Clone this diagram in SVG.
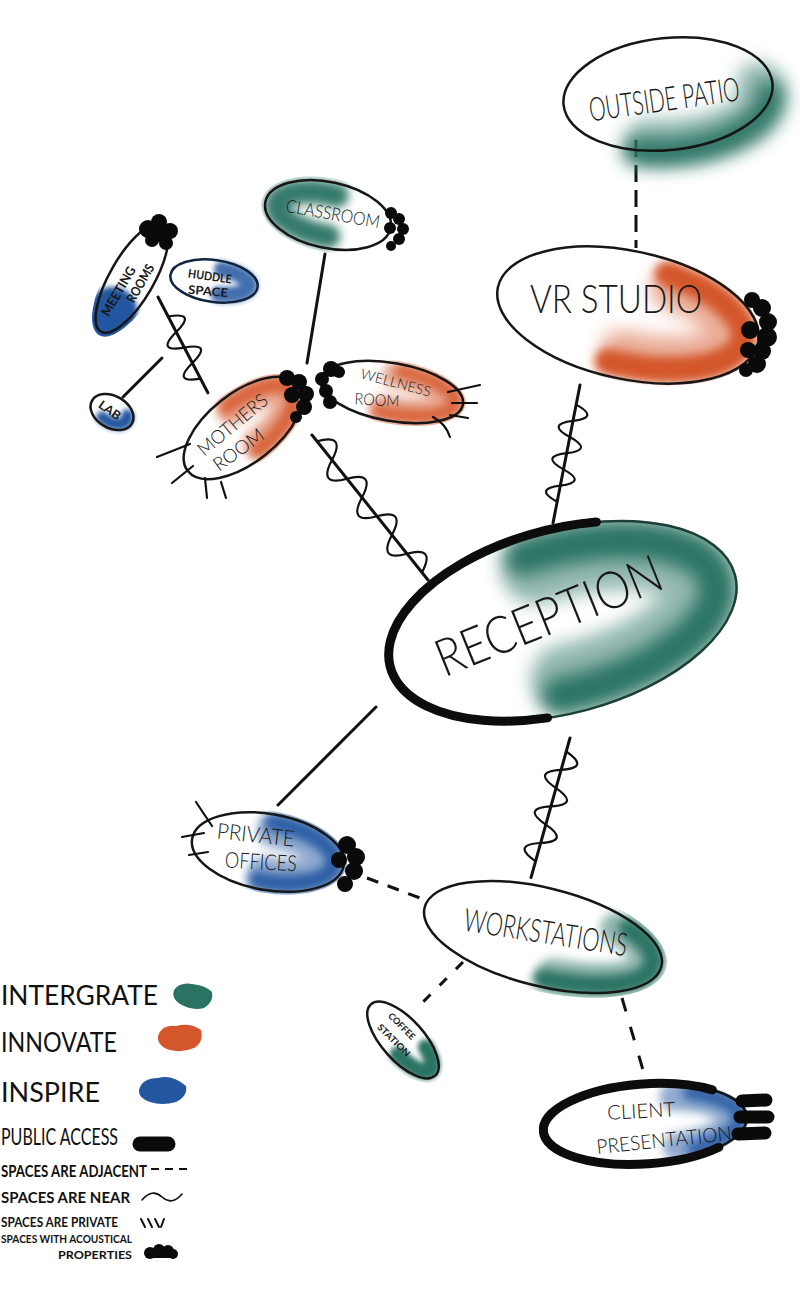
<svg xmlns="http://www.w3.org/2000/svg" width="800" height="1309" viewBox="0 0 800 1309">
<style>
.hand{font-family:Lato,"Liberation Sans","DejaVu Sans",sans-serif;fill:#181818;font-weight:300;}
.leg{font-family:Lato,"Liberation Sans","DejaVu Sans",sans-serif;fill:#111;font-weight:normal;}
.b{font-weight:bold;}
.ol{fill:none;stroke:#161616;stroke-width:2.5;}
.ln{fill:none;stroke:#111;stroke-width:3;stroke-linecap:round;}
.wv{fill:none;stroke:#111;stroke-width:2.2;stroke-linecap:round;}
.dash{fill:none;stroke:#111;stroke-width:3;}
.tick{fill:none;stroke:#111;stroke-width:2.2;stroke-linecap:round;}
.pub{fill:none;stroke:#0c0c0c;stroke-width:9;stroke-linecap:round;}
.blob{fill:#0a0a0a;}
.teal{fill:none;stroke:#2a7363;stroke-linecap:round;}
.orng{fill:none;stroke:#d4572b;stroke-linecap:round;}
.blue{fill:none;stroke:#2357a0;stroke-linecap:round;}
.lt{opacity:0.5;}
</style>
<defs>
<filter id="bl" filterUnits="userSpaceOnUse" x="-400" y="-400" width="800" height="800"><feGaussianBlur stdDeviation="9"/></filter>
<filter id="bm" filterUnits="userSpaceOnUse" x="-400" y="-400" width="800" height="800"><feGaussianBlur stdDeviation="5"/></filter>
<filter id="bs" filterUnits="userSpaceOnUse" x="-400" y="-400" width="800" height="800"><feGaussianBlur stdDeviation="2.5"/></filter>
<clipPath id="cVR"><ellipse rx="135" ry="66"/></clipPath>
<clipPath id="cRE"><ellipse rx="179" ry="93"/></clipPath>
<clipPath id="cCL"><ellipse rx="68" ry="37"/></clipPath>
<clipPath id="cME"><ellipse rx="66" ry="26"/></clipPath>
<clipPath id="cHU"><ellipse rx="50" ry="27"/></clipPath>
<clipPath id="cLA"><ellipse rx="28" ry="21"/></clipPath>
<clipPath id="cMO"><ellipse rx="73" ry="38"/></clipPath>
<clipPath id="cWE"><ellipse rx="75" ry="32"/></clipPath>
<clipPath id="cPO"><ellipse rx="80" ry="41"/></clipPath>
<clipPath id="cWS"><ellipse rx="127" ry="54"/></clipPath>
<clipPath id="cCO"><ellipse rx="53" ry="26"/></clipPath>
<clipPath id="cCP"><ellipse rx="104" ry="42"/></clipPath>
</defs>
<rect width="800" height="1309" fill="#ffffff"/>

<g id="connectors">
  <line class="dash" x1="636" y1="140" x2="636" y2="248" stroke-dasharray="17 8"/>
  <g transform="translate(580,385) rotate(101.07)">
    <line class="ln" x1="0" y1="0" x2="140.6" y2="0"/>
    <path class="wv" d="M20 0 q8.25 -26 16.5 0 t16.5 0 t16.5 0 t16.5 0 t16.5 0 t16.5 0"/>
  </g>
  <g transform="translate(312,435) rotate(51.34)">
    <line class="ln" x1="0" y1="0" x2="185.7" y2="0"/>
    <path class="wv" d="M8 0 q12 -28 24 0 t24 0 t24 0 t24 0 t24 0 t24 0 t24 0"/>
  </g>
  <g transform="translate(158,297) rotate(62.5)">
    <line class="ln" x1="0" y1="0" x2="108" y2="0"/>
    <path class="wv" d="M22 0 q8.75 -28 17.5 0 t17.5 0 t17.5 0 t17.5 0"/>
  </g>
  <g transform="translate(570,738) rotate(105.6)">
    <line class="ln" x1="0" y1="0" x2="145" y2="0"/>
    <path class="wv" d="M14 0 q9.5 -28 19 0 t19 0 t19 0 t19 0 t19 0 t19 0"/>
  </g>
  <line class="ln" x1="123" y1="397" x2="162" y2="358"/>
  <line class="ln" x1="325" y1="254" x2="307" y2="363"/>
  <line class="ln" x1="376" y1="707" x2="278" y2="805"/>
  <line class="dash" x1="367" y1="878" x2="420" y2="898" stroke-dasharray="12 10"/>
  <line class="dash" x1="463" y1="962" x2="415" y2="1010" stroke-dasharray="10 13"/>
  <line class="dash" x1="622" y1="998" x2="643" y2="1070" stroke-dasharray="14 16"/>
</g>

<g id="outside-patio">
  <g transform="translate(668,94) rotate(-6)">
    <g transform="translate(4,10)">
      <path class="teal lt" stroke-width="45" filter="url(#bl)" d="M87 -10 A87 38 0 0 1 -29.8 35.7"/>
      <path class="teal" stroke-width="26" filter="url(#bl)" d="M97.6 0 A98 48 0 0 1 -41.4 43.5"/>
    </g>
    <ellipse class="ol" rx="105" ry="56"/>
  </g>
  <text class="hand" x="0" y="0" transform="translate(664,98) rotate(-8) scale(0.66,1)" font-size="33" text-anchor="middle" dominant-baseline="central" textLength="230" lengthAdjust="spacingAndGlyphs">OUTSIDE PATIO</text>
</g>

<g id="vr-studio">
  <g transform="translate(628,315) rotate(12)">
    <g clip-path="url(#cVR)">
      <path class="orng lt" stroke-width="40" filter="url(#bl)" d="M35.9 -33.8 A105 36 0 0 1 -0 36"/>
      <path class="orng" stroke-width="26" filter="url(#bm)" d="M30.5 -48.3 A118 50 0 0 1 -10.3 49.8"/>
    </g>
    <ellipse class="ol" rx="133" ry="64"/>
  </g>
  <text class="hand" x="616" y="298" font-size="40" text-anchor="middle" dominant-baseline="central" textLength="172" lengthAdjust="spacingAndGlyphs">VR STUDIO</text>
  <g class="blob">
    <circle cx="752" cy="300" r="8"/><circle cx="762" cy="308" r="9"/><circle cx="768" cy="322" r="9"/>
    <circle cx="767" cy="337" r="10"/><circle cx="762" cy="351" r="9"/><circle cx="757" cy="364" r="9"/>
    <circle cx="746" cy="370" r="7"/><circle cx="750" cy="330" r="9"/><circle cx="748" cy="350" r="8"/>
  </g>
</g>

<g id="reception">
  <g transform="translate(563,621) rotate(-15)">
    <g clip-path="url(#cRE)">
      <path class="teal lt" stroke-width="70" filter="url(#bl)" d="M-12.5 -56.8 A143 57 0 1 1 -12.5 56.8"/>
      <path class="teal" stroke-width="36" filter="url(#bl)" d="M-22 -71.3 A158 72 0 1 1 -22 71.3"/>
    </g>
    <ellipse class="ol" rx="178" ry="92" style="stroke:#1d3f37"/>
    <path class="pub" d="M-40 89.6 A178 92 0 1 1 57.9 -87"/>
  </g>
  <text class="hand" x="0" y="0" transform="translate(548,614) rotate(-22)" font-size="52" text-anchor="middle" dominant-baseline="central" textLength="240" lengthAdjust="spacingAndGlyphs">RECEPTION</text>
</g>

<g id="classroom">
  <g transform="translate(328,215) rotate(12)">
    <g clip-path="url(#cCL)">
      <path class="teal" stroke-width="24" filter="url(#bm)" opacity="0.95" d="M4.5 20.9 A52 21 0 1 1 4.5 -20.9"/>
    </g>
    <ellipse class="ol" rx="64" ry="33"/>
  </g>
  <text class="hand" x="0" y="0" transform="translate(333,213) rotate(10)" font-size="18" text-anchor="middle" dominant-baseline="central" textLength="95" lengthAdjust="spacingAndGlyphs">CLASSROOM</text>
  <g class="blob">
    <circle cx="391" cy="213" r="6"/><circle cx="399" cy="219" r="6"/><circle cx="403" cy="229" r="6"/>
    <circle cx="399" cy="239" r="6"/><circle cx="391" cy="246" r="5"/><circle cx="390" cy="228" r="6"/>
  </g>
</g>

<g id="meeting-rooms">
  <g transform="translate(132,278) rotate(-60)">
    <g clip-path="url(#cME)">
      <ellipse cx="-42" cy="0" rx="28" ry="26" fill="#2357a0" filter="url(#bs)"/>
    </g>
    <ellipse class="ol" rx="62" ry="22"/>
  </g>
  <text class="hand b" x="0" y="0" transform="translate(118,291) rotate(-60)" font-size="13" text-anchor="middle" dominant-baseline="central" textLength="55" lengthAdjust="spacingAndGlyphs">MEETING</text>
  <text class="hand b" x="0" y="0" transform="translate(140,283) rotate(-60)" font-size="13" text-anchor="middle" dominant-baseline="central" textLength="42" lengthAdjust="spacingAndGlyphs">ROOMS</text>
  <g class="blob">
    <circle cx="148" cy="229" r="9"/><circle cx="159" cy="222" r="8"/><circle cx="170" cy="231" r="8"/>
    <circle cx="166" cy="243" r="7"/><circle cx="152" cy="240" r="7"/><circle cx="160" cy="234" r="8"/>
  </g>
</g>

<g id="huddle-space">
  <g transform="translate(214,281) rotate(8)">
    <g clip-path="url(#cHU)">
      <path class="blue" stroke-width="16" filter="url(#bs)" opacity="0.85" d="M6.25 -12.8 A36 13 0 0 1 6.25 12.8"/>
    </g>
    <ellipse class="ol" rx="44" ry="21" style="stroke:#10243f"/>
  </g>
  <text class="hand b" x="0" y="0" transform="translate(210,276) rotate(8)" font-size="12" text-anchor="middle" dominant-baseline="central" textLength="44" lengthAdjust="spacingAndGlyphs">HUDDLE</text>
  <text class="hand b" x="0" y="0" transform="translate(208,291) rotate(5)" font-size="12" text-anchor="middle" dominant-baseline="central" textLength="40" lengthAdjust="spacingAndGlyphs">SPACE</text>
</g>

<g id="lab">
  <g transform="translate(112,412) rotate(30)">
    <g clip-path="url(#cLA)">
      <path class="blue" stroke-width="12" filter="url(#bs)" d="M14.7 -5 A17 10 0 0 1 -5.8 9.4"/>
    </g>
    <ellipse class="ol" rx="23" ry="16"/>
  </g>
  <text class="hand b" x="0" y="0" transform="translate(110,410) rotate(35)" font-size="12" text-anchor="middle" dominant-baseline="central" textLength="24" lengthAdjust="spacingAndGlyphs">LAB</text>
</g>

<g id="mothers-room">
  <g transform="translate(243,428) rotate(-38)">
    <g clip-path="url(#cMO)">
      <path class="orng lt" stroke-width="30" filter="url(#bm)" d="M1.95 -21 A56 21 0 0 1 1.95 21"/>
      <path class="orng" stroke-width="16" filter="url(#bm)" opacity="0.85" d="M0 -27 A62 27 0 1 1 -2.2 27"/>
    </g>
    <ellipse class="ol" rx="70" ry="35"/>
  </g>
  <text class="hand" x="0" y="0" transform="translate(232,424) rotate(-40)" font-size="19" text-anchor="middle" dominant-baseline="central" textLength="85" lengthAdjust="spacingAndGlyphs">MOTHERS</text>
  <text class="hand" x="0" y="0" transform="translate(238,449) rotate(-36)" font-size="19" text-anchor="middle" dominant-baseline="central" textLength="58" lengthAdjust="spacingAndGlyphs">ROOM</text>
  <g class="blob">
    <circle cx="287" cy="378" r="8"/><circle cx="299" cy="382" r="8"/><circle cx="306" cy="394" r="8"/>
    <circle cx="304" cy="407" r="8"/><circle cx="296" cy="417" r="6"/><circle cx="292" cy="395" r="8"/>
  </g>
  <line class="tick" x1="157" y1="457" x2="190" y2="444"/>
  <line class="tick" x1="172" y1="483" x2="193" y2="466"/>
  <line class="tick" x1="205" y1="478" x2="207" y2="498"/>
  <line class="tick" x1="221" y1="482" x2="226" y2="498"/>
</g>

<g id="wellness-room">
  <g transform="translate(392,392) rotate(10)">
    <g clip-path="url(#cWE)">
      <path class="orng lt" stroke-width="26" filter="url(#bm)" d="M0 -17 A60 17 0 1 1 -5.2 16.9"/>
      <path class="orng" stroke-width="14" filter="url(#bm)" opacity="0.85" d="M5.7 -21.9 A65 22 0 1 1 -11.3 21.7"/>
    </g>
    <ellipse class="ol" rx="72" ry="29"/>
  </g>
  <text class="hand" x="0" y="0" transform="translate(396,382) rotate(15)" font-size="14" text-anchor="middle" dominant-baseline="central" textLength="72" lengthAdjust="spacingAndGlyphs">WELLNESS</text>
  <text class="hand" x="0" y="0" transform="translate(377,399) rotate(3)" font-size="16" text-anchor="middle" dominant-baseline="central" textLength="45" lengthAdjust="spacingAndGlyphs">ROOM</text>
  <g class="blob">
    <circle cx="331" cy="369" r="8"/><circle cx="322" cy="379" r="7"/><circle cx="326" cy="391" r="7"/>
    <circle cx="330" cy="402" r="7"/><circle cx="339" cy="372" r="6"/>
  </g>
  <line class="tick" x1="448" y1="392" x2="480" y2="385"/>
  <line class="tick" x1="452" y1="403" x2="477" y2="403"/>
  <line class="tick" x1="450" y1="415" x2="468" y2="418"/>
  <path class="tick" d="M433 417 Q446 424 450 437"/>
</g>

<g id="private-offices">
  <g transform="translate(268,852) rotate(10)">
    <g clip-path="url(#cPO)">
      <path class="blue lt" stroke-width="34" filter="url(#bm)" d="M2.1 -22 A61 22 0 0 1 0 22"/>
      <path class="blue" stroke-width="18" filter="url(#bm)" opacity="0.9" d="M0 -30 A68 30 0 1 1 -5.9 29.9"/>
    </g>
    <ellipse class="ol" rx="77" ry="38"/>
  </g>
  <text class="hand" x="0" y="0" transform="translate(256,834) rotate(6)" font-size="22" text-anchor="middle" dominant-baseline="central" textLength="78" lengthAdjust="spacingAndGlyphs">PRIVATE</text>
  <text class="hand" x="0" y="0" transform="translate(261,861) rotate(3)" font-size="22" text-anchor="middle" dominant-baseline="central" textLength="72" lengthAdjust="spacingAndGlyphs">OFFICES</text>
  <g class="blob">
    <circle cx="347" cy="845" r="9"/><circle cx="356" cy="857" r="9"/><circle cx="354" cy="871" r="9"/>
    <circle cx="345" cy="884" r="8"/><circle cx="339" cy="860" r="8"/>
  </g>
  <line class="tick" x1="196" y1="802" x2="212" y2="826"/>
  <line class="tick" x1="182" y1="837" x2="204" y2="833"/>
  <line class="tick" x1="189" y1="855" x2="208" y2="852"/>
</g>

<g id="workstations">
  <g transform="translate(543,937) rotate(14)">
    <g clip-path="url(#cWS)">
      <path class="teal lt" stroke-width="32" filter="url(#bm)" d="M68.8 -26 A107 34 0 0 1 18.6 33.5"/>
      <path class="teal" stroke-width="20" filter="url(#bm)" d="M80.6 -29 A114 41 0 0 1 9.9 40.8"/>
    </g>
    <ellipse class="ol" rx="122" ry="49"/>
  </g>
  <text class="hand" x="0" y="0" transform="translate(546,931) rotate(9)" font-size="32" text-anchor="middle" dominant-baseline="central" textLength="165" lengthAdjust="spacingAndGlyphs">WORKSTATIONS</text>
</g>

<g id="coffee-station">
  <g transform="translate(403,1040) rotate(48)">
    <g clip-path="url(#cCO)">
      <path class="teal" stroke-width="16" filter="url(#bs)" d="M20.5 -12.1 A41 14 0 0 1 7.1 13.8"/>
    </g>
    <ellipse class="ol" rx="48" ry="21"/>
  </g>
  <text class="hand b" x="0" y="0" transform="translate(402,1026) rotate(45)" font-size="9" text-anchor="middle" dominant-baseline="central" textLength="34" lengthAdjust="spacingAndGlyphs">COFFEE</text>
  <text class="hand b" x="0" y="0" transform="translate(394,1040) rotate(45)" font-size="9" text-anchor="middle" dominant-baseline="central" textLength="42" lengthAdjust="spacingAndGlyphs">STATION</text>
</g>

<g id="client-presentation">
  <g transform="translate(645,1124) rotate(-4)">
    <g clip-path="url(#cCP)">
      <path class="blue lt" stroke-width="28" filter="url(#bm)" d="M30.4 -25.4 A89 27 0 0 1 30.4 25.4"/>
      <path class="blue" stroke-width="16" filter="url(#bm)" opacity="0.85" d="M47.5 -28.6 A95 33 0 0 1 47.5 28.6"/>
    </g>
    <ellipse class="ol" rx="102" ry="40"/>
    <path class="pub" d="M72.1 28.3 A102 40 0 1 1 69.6 -29.3"/>
  </g>
  <text class="hand" x="0" y="0" transform="translate(641,1110) rotate(-3)" font-size="20" text-anchor="middle" dominant-baseline="central" textLength="68" lengthAdjust="spacingAndGlyphs">CLIENT</text>
  <text class="hand" x="0" y="0" transform="translate(664,1139) rotate(-6)" font-size="20" text-anchor="middle" dominant-baseline="central" textLength="136" lengthAdjust="spacingAndGlyphs">PRESENTATION</text>
  <g stroke="#0a0a0a" stroke-width="13" stroke-linecap="round">
    <line x1="742" y1="1101" x2="766" y2="1100"/>
    <line x1="740" y1="1117" x2="768" y2="1117"/>
    <line x1="738" y1="1134" x2="765" y2="1133"/>
  </g>
</g>

<g id="legend">
  <text class="leg" x="1" y="1005" font-size="27" textLength="157" lengthAdjust="spacingAndGlyphs">INTERGRATE</text>
  <path fill="#2a7363" d="M174 990 Q180 982 192 984 Q205 985 212 992 Q214 1002 204 1008 Q192 1011 180 1004 Q171 998 174 990Z"/>
  <text class="leg" x="1" y="1052" font-size="27" textLength="116" lengthAdjust="spacingAndGlyphs">INNOVATE</text>
  <path fill="#d4572b" d="M158 1036 Q162 1024 176 1026 Q190 1022 201 1030 Q204 1042 194 1048 Q182 1053 170 1050 Q157 1046 158 1036Z"/>
  <text class="leg" x="1" y="1102" font-size="27" textLength="99" lengthAdjust="spacingAndGlyphs">INSPIRE</text>
  <path fill="#2357a0" d="M139 1090 Q142 1078 158 1078 Q172 1074 186 1086 Q188 1096 176 1102 Q162 1106 150 1102 Q138 1098 139 1090Z"/>
  <text class="leg" x="1" y="1145" font-size="23" textLength="117" lengthAdjust="spacingAndGlyphs">PUBLIC ACCESS</text>
  <line x1="140" y1="1144" x2="168" y2="1144" stroke="#0a0a0a" stroke-width="15" stroke-linecap="round"/>
  <text class="leg b" x="1" y="1177" font-size="17" textLength="146" lengthAdjust="spacingAndGlyphs">SPACES ARE ADJACENT</text>
  <line x1="151" y1="1169" x2="190" y2="1169" stroke="#111" stroke-width="2" stroke-dasharray="8 6"/>
  <text class="leg b" x="1" y="1203" font-size="16" textLength="129" lengthAdjust="spacingAndGlyphs">SPACES ARE NEAR</text>
  <path class="wv" style="stroke-width:1.6" d="M142 1200 Q152 1188 162 1197 T182 1194"/>
  <text class="leg b" x="1" y="1227" font-size="14" textLength="117" lengthAdjust="spacingAndGlyphs">SPACES ARE PRIVATE</text>
  <g class="tick" style="stroke-width:2">
    <line x1="141" y1="1219" x2="145" y2="1227"/><line x1="148" y1="1219" x2="152" y2="1227"/>
    <line x1="155" y1="1219" x2="159" y2="1227"/><line x1="164" y1="1219" x2="161" y2="1227"/>
  </g>
  <text class="leg b" x="1" y="1243" font-size="12" textLength="131" lengthAdjust="spacingAndGlyphs">SPACES WITH ACOUSTICAL</text>
  <text class="leg b" x="58" y="1259" font-size="12" textLength="74" lengthAdjust="spacingAndGlyphs">PROPERTIES</text>
  <g class="blob">
    <circle cx="150" cy="1253" r="6"/><circle cx="159" cy="1250" r="6"/><circle cx="168" cy="1251" r="6"/><circle cx="173" cy="1254" r="5"/>
    <rect x="146" y="1250" width="28" height="8"/>
  </g>
</g>
</svg>
